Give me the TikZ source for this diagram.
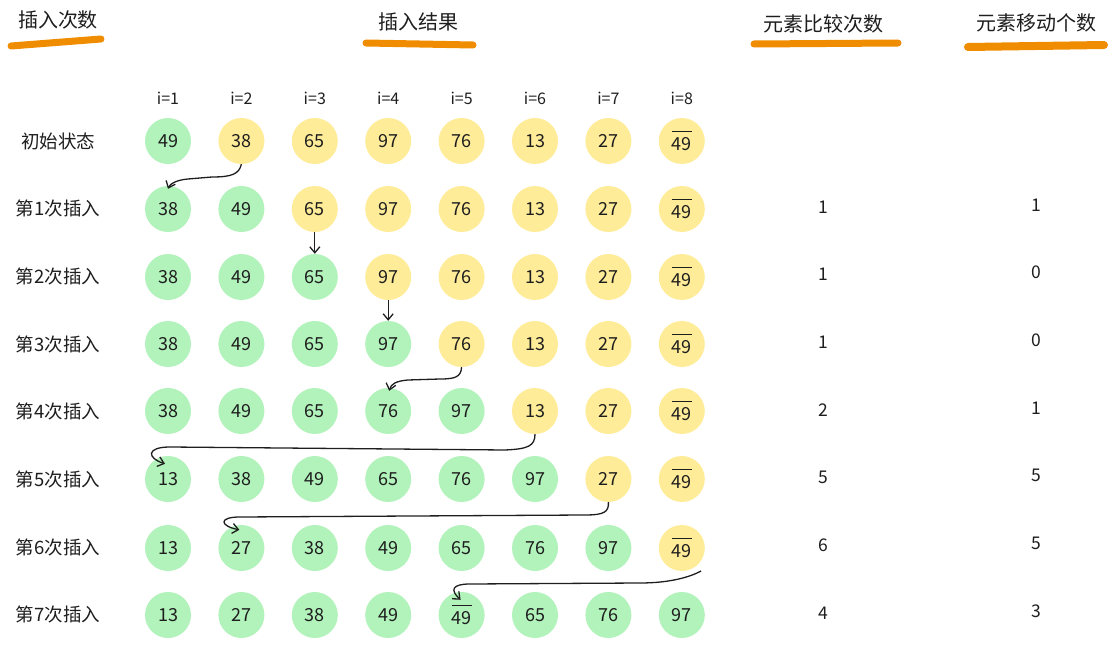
\documentclass[tikz,border=0pt]{standalone}
\usepackage{fontspec}
\setmainfont{Noto Sans CJK SC}
\usetikzlibrary{arrows.meta,calc}
\definecolor{gr}{HTML}{B2F2BB}
\definecolor{ye}{HTML}{FFEC99}
\definecolor{org}{HTML}{F08C00}
\definecolor{ink}{HTML}{1E1E1E}
\newcommand\ob{\setbox0\hbox{49}\rlap{\raisebox{\dimexpr\ht0+5pt\relax}{\rule{\wd0}{1.2pt}}}\box0}
\begin{document}
\begin{tikzpicture}[x=1pt,y=-1pt,
 ball/.style={circle,minimum size=46pt,inner sep=0pt,font=\fontsize{18}{18}\selectfont,text=ink},
 g/.style={ball,fill=gr}, yl/.style={ball,fill=ye},
 lab/.style={font=\fontsize{18.5}{20}\selectfont,text=ink},
 num/.style={font=\fontsize{17.5}{20}\selectfont,text=ink},
 idx/.style={font=\fontsize{16}{18}\selectfont,text=ink},
 hdr/.style={font=\fontsize{20}{22}\selectfont,text=ink},
 ul/.style={draw=org,line width=7pt,line cap=round},
 arr/.style={draw=ink,line width=1.3pt,-{Straight Barb[length=6pt,width=10pt]}}]
\useasboundingbox (0,0) rectangle (1112,650);
% headers
\node[hdr] (h1) at (58,20) {插入次数};
\node[hdr] (h2) at (418,22) {插入结果};
\node[hdr] (h3) at (823,24) {元素比较次数};
\node[hdr] (h4) at (1036,23) {元素移动个数};
\draw[ul] (11,46) -- (101,39);
\draw[ul] (366,43) -- (473,45);
\draw[ul] (754,44) -- (898,43);
\draw[ul,line width=8pt] (968,47) -- (1104,45);
% index labels
\foreach \c in {1,...,8} \node[idx] (i\c) at ({168+73.4*(\c-1)},98) {i=\c};
% row labels
\foreach \lbl [count=\r from 0] in {初始状态,第1次插入,第2次插入,第3次插入,第4次插入,第5次插入,第6次插入,第7次插入}
  \node[lab] (l\r) at (58,{141+67.7*\r}) {\lbl};
% rows
\foreach \v/\s [count=\c] in {49/g,38/yl,65/yl,97/yl,76/yl,13/yl,27/yl,\ob/yl}
  \node[\s] (r0-\c) at ({168+73.4*(\c-1)},141) {\v};
\foreach \v/\s [count=\c] in {38/g,49/g,65/yl,97/yl,76/yl,13/yl,27/yl,\ob/yl}
  \node[\s] (r1-\c) at ({168+73.4*(\c-1)},209) {\v};
\foreach \v/\s [count=\c] in {38/g,49/g,65/g,97/yl,76/yl,13/yl,27/yl,\ob/yl}
  \node[\s] (r2-\c) at ({168+73.4*(\c-1)},277) {\v};
\foreach \v/\s [count=\c] in {38/g,49/g,65/g,97/g,76/yl,13/yl,27/yl,\ob/yl}
  \node[\s] (r3-\c) at ({168+73.4*(\c-1)},344) {\v};
\foreach \v/\s [count=\c] in {38/g,49/g,65/g,76/g,97/g,13/yl,27/yl,\ob/yl}
  \node[\s] (r4-\c) at ({168+73.4*(\c-1)},411) {\v};
\foreach \v/\s [count=\c] in {13/g,38/g,49/g,65/g,76/g,97/g,27/yl,\ob/yl}
  \node[\s] (r5-\c) at ({168+73.4*(\c-1)},479) {\v};
\foreach \v/\s [count=\c] in {13/g,27/g,38/g,49/g,65/g,76/g,97/g,\ob/yl}
  \node[\s] (r6-\c) at ({168+73.4*(\c-1)},548) {\v};
\foreach \v/\s [count=\c] in {13/g,27/g,38/g,49/g,\ob/g,65/g,76/g,97/g}
  \node[\s] (r7-\c) at ({168+73.4*(\c-1)},615) {\v};
% counts
\foreach \a/\b [count=\r] in {1/1,1/0,1/0,2/1,5/5,6/5,4/3} {
  \node[num] (cmp\r) at (823,{207+67.7*(\r-1)}) {\a};
  \node[num] (mov\r) at (1036,{205+67.7*(\r-1)}) {\b};
}
% arrows
\draw[arr] (r0-2.south) .. controls (239,174) and (232,177) .. (212,177)
  -- (188,179) .. controls (176,180) and (170,184) .. ($(r1-1.north)+(0,3)$);
\draw[arr] (r1-3.south) -- (r2-3.north);
\draw[arr] (r2-4.south) -- (r3-4.north);
\draw[arr] (r3-5.south) .. controls (461,377) and (455,379) .. (440,379)
  -- (408,380) .. controls (396,381) and (391,384) .. ($(r4-4.north)+(1,3)$);
\draw[arr] (r4-6.south) .. controls (535,446) and (528,449) .. (505,450)
  -- (170,447) .. controls (146,447) and (147,458) .. ($(r5-1.north)+(-3,8)$);
\draw[arr] (r5-7.south) .. controls (609,512) and (604,515) .. (585,515)
  -- (240,517) .. controls (218,517) and (220,526) .. ($(r6-2.north)+(-2,5)$);
\draw[arr] ($(r6-8.-55)+(6,4)$) .. controls (690,577) and (670,583) .. (640,583)
  -- (470,584) .. controls (452,584) and (450,590) .. ($(r7-5.north)+(-1,8)$);
\end{tikzpicture}
\end{document}
